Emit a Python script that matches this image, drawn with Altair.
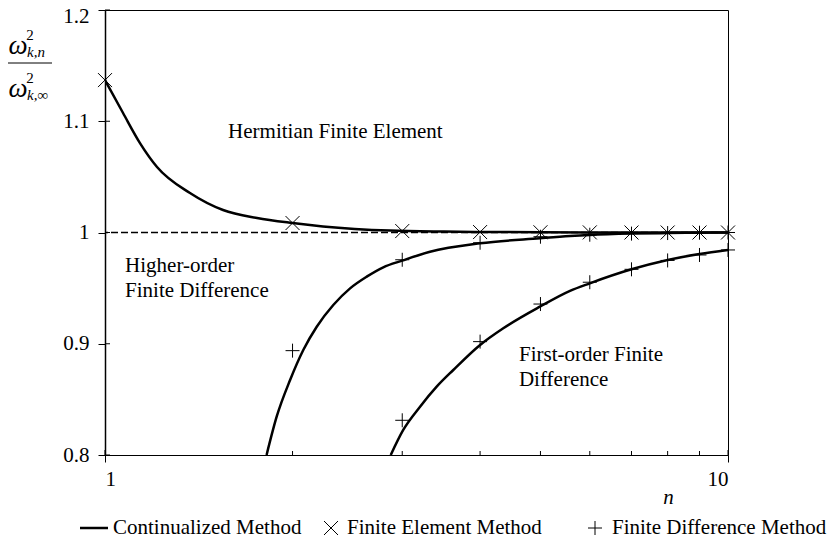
import altair as alt
import pandas as pd

# ---- values ----
# Continualized method curves
fe_curve_n = [1.0, 1.069, 1.138, 1.212, 1.369, 1.547, 1.754, 2.0, 2.238, 2.868, 3.5, 4.0, 5.0, 6.0, 7.0, 8.0, 9.0, 10.0]
fe_curve_v = [1.137, 1.1074, 1.0804, 1.0589, 1.0355, 1.0202, 1.013, 1.0085, 1.0055, 1.0017, 1.0008, 1.0005, 1.0002, 1.0001, 1.0, 1.0, 1.0, 1.0]

ho_curve_n = [1.817, 1.886, 1.982, 2.081, 2.187, 2.325, 2.474, 2.631, 2.797, 3.0, 3.324, 4.0, 4.99, 5.577, 6.0, 7.0, 8.0, 9.0, 10.0]
ho_curve_v = [0.8, 0.8344, 0.8674, 0.8944, 0.9153, 0.9348, 0.9498, 0.9603, 0.9687, 0.9747, 0.9827, 0.9903, 0.9948, 0.9968, 0.9978, 0.999, 0.9995, 0.9998, 1.0]

fo_curve_n = [2.875, 3.011, 3.204, 3.407, 3.623, 4.0, 4.358, 4.99, 5.577, 6.0, 7.0, 8.0, 9.0, 10.0]
fo_curve_v = [0.8, 0.8225, 0.8434, 0.8614, 0.8764, 0.8989, 0.9139, 0.9333, 0.9475, 0.9543, 0.9669, 0.9753, 0.9807, 0.9843]

# Finite element method points
fe_n = [1, 2, 3, 4, 5, 6, 7, 8, 9, 10]
fe_v = [1.137, 1.0085, 1.0013, 1.0004, 1.0002, 1.0001, 1.0, 1.0, 1.0, 1.0]

# Finite difference method points (higher-order and first-order)
fdh_n = [2, 3, 4, 5, 6, 7, 8, 9, 10]
fdh_v = [0.8938, 0.9755, 0.9908, 0.9962, 0.998, 0.999, 0.9995, 0.9998, 1.0]
fdf_n = [3, 4, 5, 6, 7, 8, 9, 10]
fdf_v = [0.8312, 0.9019, 0.9357, 0.9553, 0.9669, 0.9749, 0.9798, 0.9843]

series_names = ["Continualized Method", "Finite Element Method", "Finite Difference Method"]
y_ticks = [0.8, 0.9, 1.0, 1.1, 1.2]
x_ticks = [1, 10]
x_minor = [2, 3, 4, 5, 6, 7, 8, 9]
ref_value = [1.0]

ann_text = ["Hermitian Finite Element", "Higher-order", "Finite Difference", "First-order Finite", "Difference"]
ann_n = [1.576, 1.077, 1.077, 4.618, 4.618]
ann_v = [1.0903, 0.9699, 0.9474, 0.8899, 0.8674]

# ---- tables ----
curves = pd.concat([
    pd.DataFrame({"n": fe_curve_n, "v": fe_curve_v, "curve": "fe"}),
    pd.DataFrame({"n": ho_curve_n, "v": ho_curve_v, "curve": "ho"}),
    pd.DataFrame({"n": fo_curve_n, "v": fo_curve_v, "curve": "fo"}),
])
points = pd.concat([
    pd.DataFrame({"n": fe_n, "v": fe_v, "series": series_names[1]}),
    pd.DataFrame({"n": fdh_n, "v": fdh_v, "series": series_names[2]}),
    pd.DataFrame({"n": fdf_n, "v": fdf_v, "series": series_names[2]}),
])
ann = pd.DataFrame({"n": ann_n, "v": ann_v, "t": ann_text})

FONT = "'Liberation Serif', 'Times New Roman', serif"

xs = alt.Scale(type="log", domain=[1, 10])
ys = alt.Scale(domain=[0.8, 1.2])
x_enc = alt.X("n:Q", scale=xs, axis=alt.Axis(
    values=x_ticks, format="~g", title="n", tickSize=7, labelPadding=6,
    titleFontStyle="italic", titleFontWeight="normal", titleFont=FONT, titleFontSize=21,
    titleX=563, titleY=42, titleAlign="center", titleBaseline="middle"))
y_enc = alt.Y("v:Q", scale=ys, axis=alt.Axis(
    values=y_ticks, format="~g", title=None, tickSize=7, labelPadding=9,
    domainWidth=1.5,
    labelOffset={"condition": {"test": "datum.value >= 1.19", "value": 6}, "value": 0}))

lines = alt.Chart(curves).mark_line(color="black", strokeWidth=2.5, interpolate="monotone", clip=True).encode(
    x=x_enc, y=y_enc, detail="curve:N", order="n:Q")

ref = alt.Chart(pd.DataFrame({"v": ref_value})).mark_rule(
    color="black", strokeWidth=1.5, strokeDash=[7, 3]).encode(y=y_enc)

X_PATH = "M-0.5,-0.5L0.5,0.5M-0.5,0.5L0.5,-0.5"
PLUS_PATH = "M-0.5,0L0.5,0M0,-0.5L0,0.5"
shape_scale = alt.Scale(domain=series_names[1:], range=[X_PATH, PLUS_PATH])

pts = alt.Chart(points).mark_point(filled=False, color="black", strokeWidth=1, size=784, opacity=1).encode(
    x=x_enc, y=y_enc,
    shape=alt.Shape("series:N", scale=shape_scale, legend=None),
)

texts = alt.Chart(ann).mark_text(align="left", baseline="middle", font=FONT, fontSize=21, color="black").encode(
    x=x_enc, y=y_enc, text="t:N")

# inward tick marks
y_in = alt.Chart(pd.DataFrame({"v": y_ticks})).mark_rule(color="black", strokeWidth=1).encode(
    y=y_enc, x=alt.value(0), x2=alt.value(5))
x_in = alt.Chart(pd.DataFrame({"n": x_ticks})).mark_rule(color="black", strokeWidth=1).encode(
    x=x_enc, y=alt.value(445), y2=alt.value(440))
x_min = alt.Chart(pd.DataFrame({"n": x_minor})).mark_rule(color="black", strokeWidth=1).encode(
    x=x_enc, y=alt.value(445), y2=alt.value(441))


def label(txt, x, y, size, align="center", italic=False):
    kw = dict(align=align, baseline="middle", font=FONT, fontSize=size, color="black")
    if italic:
        kw["fontStyle"] = "italic"
    return alt.Chart(pd.DataFrame({"t": [txt]})).mark_text(**kw).encode(
        text="t:N", x=alt.value(x), y=alt.value(y))


def symbol(path, x, y):
    return alt.Chart(pd.DataFrame({"s": [0]})).mark_point(
        shape=path, filled=False, color="black", strokeWidth=1, size=784, opacity=1).encode(
        x=alt.value(x), y=alt.value(y))


frac_line = alt.Chart(pd.DataFrame({"t": [0]})).mark_rule(color="black", strokeWidth=1).encode(
    x=alt.value(-97), x2=alt.value(-53), y=alt.value(53))

ytitle = [
    label("ω", -87, 36, 27, italic=True),
    label("2", -75, 25, 15),
    label("k,n", -78, 42, 15, align="left", italic=True),
    frac_line,
    label("ω", -87, 79, 27, italic=True),
    label("2", -75, 68, 15),
    label("k,∞", -78, 85, 15, align="left", italic=True),
]

# legend (below the plot)
LEG_Y = 518
legend_line = alt.Chart(pd.DataFrame({"t": [0]})).mark_rule(color="black", strokeWidth=2.5).encode(
    x=alt.value(-25), x2=alt.value(3), y=alt.value(LEG_Y))
legend = [
    legend_line,
    label(series_names[0], 8, LEG_Y, 21, align="left"),
    symbol(X_PATH, 226, LEG_Y),
    label(series_names[1], 242, LEG_Y, 21, align="left"),
    symbol(PLUS_PATH, 490, LEG_Y),
    label(series_names[2], 507, LEG_Y, 21, align="left"),
]

chart = alt.layer(ref, lines, pts, texts, y_in, x_in, x_min, *ytitle, *legend).properties(
    width=623, height=445,
    autosize=alt.AutoSizeParams(type="none"),
    padding={"left": 97, "top": 2, "right": 99, "bottom": 83},
    background="white",
).configure_view(stroke="black", strokeWidth=1).configure_axis(
    grid=False, domainColor="black", tickColor="black", labelColor="black",
    labelFont=FONT, labelFontSize=21, titleColor="black", tickWidth=1,
)

chart.save("out.html", embed_options={"renderer": "svg", "actions": False})
